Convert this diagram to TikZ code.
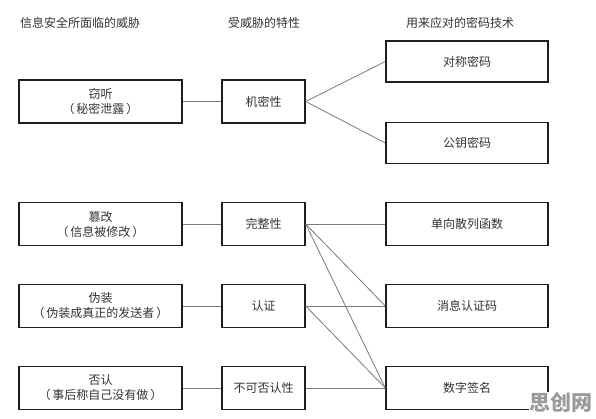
\documentclass[tikz,border=0pt]{standalone}
\usepackage{fontspec}
\setmainfont{Noto Sans CJK SC}
\usepackage{xcolor}
\usetikzlibrary{calc}
\definecolor{bg}{HTML}{FFFFFF}
\definecolor{ink}{HTML}{1E1E1E}
\definecolor{text}{HTML}{333333}
\definecolor{wire}{HTML}{7A7A7A}
\definecolor{mark}{HTML}{9A9A9A}
\tikzset{
  box/.style={draw=ink, line width=1.4pt, fill=bg, text=text, font=\fontsize{12}{15}\selectfont,
    align=center, inner sep=0pt},
  threat/.style={box, minimum width=163pt, minimum height=43pt},
  prop/.style={box, minimum width=83pt, minimum height=43pt},
  tech/.style={box, minimum width=162pt, minimum height=41pt},
  wire/.style={draw=wire, line width=0.8pt},
  head/.style={text=text, font=\fontsize{12}{14}\selectfont, anchor=west, inner sep=0pt},
}

\begin{document}
\begin{tikzpicture}[x=1pt,y=-1pt]
  \fill[bg] (0,0) rectangle (596,418);
  \useasboundingbox (0,0) rectangle (596,418);

  % column headings
  \node[head] (h1) at (20,23) {信息安全所面临的威胁};
  \node[head] (h2) at (228,23) {受威胁的特性};
  \node[head] (h3) at (406,23) {用来应对的密码技术};

  % threats
  \node[threat] (t1) at (100.5,101.5) {窃听\\（\,秘密泄露\,）};
  \node[threat] (t2) at (100.5,224) {篡改\\（\,信息被修改\,）};
  \node[threat] (t3) at (100.5,306) {伪装\\（\,伪装成真正的发送者\,）};
  \node[threat] (t4) at (100.5,388) {否认\\（\,事后称自己没有做\,）};

  % properties
  \node[prop] (p1) at (263.5,101.5) {机密性};
  \node[prop] (p2) at (263.5,224) {完整性};
  \node[prop] (p3) at (263.5,306) {认证};
  \node[prop] (p4) at (263.5,388) {不可否认性};

  % techniques
  \node[tech] (c1) at (467,61.5) {对称密码};
  \node[tech] (c2) at (467,143) {公钥密码};
  \node[tech, minimum height=43pt] (c3) at (467,224) {单向散列函数};
  \node[tech, minimum height=43pt] (c4) at (467,306) {消息认证码};
  \node[tech, minimum height=43pt] (c5) at (467,388) {数字签名};

  % threat to property
  \foreach \i in {1,...,4}
    \draw[wire] (t\i.east) -- (p\i.west);

  % property to technique
  \draw[wire] (p1.east) -- (c1.west);
  \draw[wire] (p1.east) -- (c2.west);
  \draw[wire] (p2.east) -- (c3.west);
  \draw[wire] (p2.east) -- (c4.west);
  \draw[wire] (p2.east) -- (c5.west);
  \draw[wire] (p3.east) -- (c4.west);
  \draw[wire] (p3.east) -- (c5.west);
  \draw[wire] (p4.east) -- (c5.west);

  % watermark
  \node[fill=bg, text=mark, font=\bfseries\fontsize{21}{21}\selectfont, inner sep=1pt, anchor=south east]
    (wm) at (594,414) {思创网};
\end{tikzpicture}
\end{document}
